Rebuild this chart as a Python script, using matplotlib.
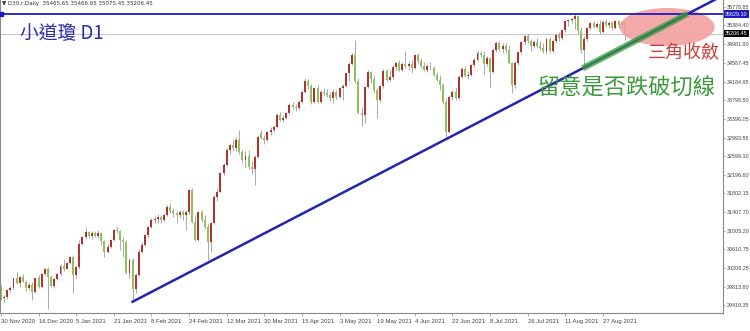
import numpy as np
import pandas as pd
import matplotlib
matplotlib.use("Agg")
import matplotlib.pyplot as plt
from matplotlib.patches import Ellipse
from matplotlib.transforms import blended_transform_factory

# D30 (Dow CFD) daily candles, 30 Nov 2020 -> 7 Sep 2021
opens = [
    29810, 29560, 29600, 29740, 29780, 29990, 29890, 30020, 29920, 29780,
    29850, 29700, 29990, 29800, 30090, 30180, 30020, 29820, 29980, 30090,
    30260, 30190, 30310, 30440, 30060, 30220, 30730, 30880, 30980, 30900,
    30950, 30900, 30960, 30780, 30560, 30660, 30800, 31020, 30990, 30800,
    30770, 30110, 30380, 29760, 30050, 30560, 30700, 30910, 31080, 31240,
    31250, 31290, 31240, 31330, 31510, 31420, 31390, 31340, 31400, 31330,
    31400, 31870, 31200, 30810, 31400, 31230, 31090, 30770, 31160, 31720,
    31830, 32230, 32410, 32720, 32830, 32760, 32940, 32690, 32510, 32600,
    32370, 32330, 32580, 33080, 32980, 32940, 33110, 33160, 33220, 33470,
    33370, 33420, 33510, 33690, 33640, 33620, 33760, 33970, 34190, 34090,
    33760, 34040, 33760, 33970, 33940, 33900, 33830, 33970, 33860, 34040,
    34100, 34360, 34570, 34760, 34190, 33520, 33470, 34070, 34400, 34250,
    34000, 33800, 34090, 34420, 34230, 34280, 34500, 34580, 34440, 34570,
    34510, 34560, 34470, 34750, 34620, 34510, 34440, 34530, 34470, 34330,
    34230, 34110, 33760, 33120, 33860, 33970, 33830, 34290, 34460, 34300,
    34330, 34540, 34650, 34790, 34760, 34560, 34690, 34400, 34860, 35010,
    34880, 34950, 34860, 34580, 34110, 34580, 34820, 35030, 35150, 35060,
    34940, 35040, 34950, 34900, 34840, 35100, 34830, 35060, 35190, 35110,
    35280, 35470, 35500, 35530, 35580, 35260, 34860, 35100, 35320, 35430,
    35360, 35420, 35250, 35460, 35400, 35440, 35320, 35470, 35400, 35465.65,
]
highs = [
    29850, 29640, 29760, 29820, 30000, 30130, 30040, 30080, 29960, 29880,
    29900, 30000, 30060, 30110, 30200, 30230, 30060, 29990, 30110, 30290,
    30400, 30330, 30460, 30480, 30260, 30800, 30900, 31080, 31000, 30990,
    31000, 31010, 30980, 30800, 30720, 30820, 31050, 31100, 31030, 30880,
    30800, 30430, 30420, 30100, 30620, 30760, 30940, 31110, 31280, 31320,
    31360, 31340, 31360, 31560, 31600, 31480, 31420, 31440, 31450, 31440,
    31900, 31920, 31350, 31420, 31450, 31340, 31150, 31200, 31760, 31920,
    32260, 32440, 32760, 32860, 32950, 33000, 33150, 32720, 32700, 32720,
    32500, 32620, 33050, 33150, 33040, 33140, 33220, 33260, 33510, 33540,
    33480, 33530, 33720, 33760, 33700, 33790, 34000, 34260, 34240, 34130,
    34060, 34110, 34000, 34040, 34020, 33960, 34020, 34000, 34080, 34130,
    34380, 34600, 34800, 35070, 34260, 33650, 34100, 34430, 34420, 34300,
    34050, 34110, 34450, 34460, 34450, 34540, 34620, 34650, 34600, 34830,
    34620, 34640, 34780, 34800, 34680, 34600, 34560, 34600, 34520, 34400,
    34320, 34150, 33840, 33900, 34000, 34050, 34320, 34500, 34520, 34420,
    34560, 34680, 34830, 34830, 34850, 34740, 34720, 34900, 35060, 35060,
    35020, 35010, 34960, 34600, 34620, 34850, 35060, 35180, 35200, 35100,
    35080, 35110, 35060, 35020, 35120, 35130, 35080, 35220, 35240, 35300,
    35500, 35530, 35560, 35629, 35600, 35350, 35150, 35350, 35450, 35480,
    35460, 35500, 35500, 35520, 35480, 35490, 35510, 35500, 35480, 35466.65,
]
lows = [
    29520, 29460, 29540, 29690, 29760, 29870, 29800, 29900, 29720, 29730,
    29520, 29680, 29780, 29790, 30060, 29330, 29800, 29780, 29960, 30060,
    30150, 30180, 30290, 29670, 30000, 30180, 30700, 30820, 30850, 30830,
    30870, 30860, 30700, 30450, 30520, 30640, 30780, 30950, 30600, 30450,
    30090, 30000, 29490, 29680, 30030, 30520, 30680, 30880, 31060, 31180,
    31160, 31160, 31190, 31320, 31380, 31300, 31160, 31280, 31230, 31020,
    31360, 31180, 30780, 30790, 31200, 31050, 30380, 30550, 31140, 31640,
    31800, 32200, 32380, 32650, 32700, 32700, 32650, 32450, 32350, 32330,
    32220, 31980, 32560, 32960, 32860, 32900, 33040, 33120, 33200, 33340,
    33320, 33380, 33490, 33600, 33560, 33580, 33740, 33950, 34020, 33700,
    33720, 33720, 33740, 33880, 33850, 33780, 33740, 33820, 33840, 33800,
    34080, 34200, 34550, 34150, 33500, 33230, 33300, 34040, 34150, 33950,
    33400, 33760, 34060, 34180, 34190, 34250, 34440, 34420, 34410, 34470,
    34430, 34380, 34450, 34590, 34480, 34420, 34400, 34430, 34300, 34200,
    34000, 33700, 33010, 33080, 33800, 33800, 33800, 34260, 34280, 34250,
    34300, 34500, 34620, 34720, 34330, 34520, 34080, 34380, 34820, 34840,
    34800, 34800, 34560, 33940, 34060, 34550, 34780, 34990, 35020, 34850,
    34900, 34900, 34860, 34800, 34780, 34790, 34800, 35010, 35050, 35080,
    35250, 35380, 35440, 35300, 35200, 34800, 34500, 35060, 35290, 35330,
    35330, 35200, 35220, 35360, 35330, 35280, 35300, 35340, 35370, 35075.45,
]
closes = [
    29560, 29600, 29740, 29780, 29990, 29890, 30020, 29920, 29780, 29850,
    29700, 29990, 29800, 30090, 30180, 30020, 29820, 29980, 30090, 30260,
    30190, 30310, 30440, 30060, 30220, 30730, 30880, 30980, 30900, 30950,
    30900, 30960, 30780, 30560, 30660, 30800, 31020, 30990, 30800, 30770,
    30110, 30380, 29760, 30050, 30560, 30700, 30910, 31080, 31240, 31250,
    31290, 31240, 31330, 31510, 31420, 31390, 31340, 31400, 31330, 31400,
    31870, 31200, 30810, 31400, 31230, 31090, 30770, 31160, 31720, 31830,
    32230, 32410, 32720, 32830, 32760, 32940, 32690, 32510, 32600, 32370,
    32330, 32580, 33010, 32980, 32940, 33110, 33160, 33220, 33470, 33370,
    33420, 33510, 33690, 33640, 33620, 33760, 33970, 34190, 34090, 33760,
    34040, 33760, 33970, 33940, 33900, 33830, 33970, 33860, 34040, 34100,
    34360, 34570, 34760, 34190, 33520, 33470, 34070, 34400, 34250, 34000,
    33800, 34090, 34420, 34230, 34280, 34500, 34580, 34440, 34570, 34510,
    34560, 34470, 34750, 34620, 34510, 34440, 34530, 34470, 34330, 34230,
    34110, 33760, 33120, 33860, 33970, 33830, 34290, 34460, 34300, 34330,
    34540, 34650, 34790, 34760, 34560, 34690, 34400, 34860, 35010, 34880,
    34950, 34860, 34580, 34110, 34580, 34820, 35030, 35150, 35060, 34940,
    35040, 34950, 34900, 34840, 35100, 34830, 35060, 35190, 35110, 35280,
    35470, 35500, 35530, 35580, 35260, 34860, 35100, 35320, 35430, 35360,
    35420, 35250, 35460, 35400, 35440, 35320, 35470, 35400, 35460, 35206.45,
]

y_ticks = [35778.85, 35384.40, 34981.90, 34587.45, 34184.95, 33798.50,
           33396.05, 32993.55, 32599.10, 32196.60, 31802.15, 31407.70,
           31005.20, 30610.75, 30208.25, 29813.80, 29419.35]
resistance = 35629.10
last_price = 35206.45
trend_idx = [42, 142]          # 29 Jan low -> 18 Jun low
trend_price = [29490, 32960]
band_idx = [185.5, 219]        # green highlight along the trend line
header = "\u25bc D30.r,Daily  35465.65 35466.65 35075.45 35206.45"

# trading days (CFD trades US holidays except Christmas / New Year)
dates = pd.bdate_range("2020-11-30", "2021-09-07")
dates = dates[~dates.isin(pd.to_datetime(["2020-12-25", "2021-01-01"]))]

o = np.array(opens)
h = np.array(highs)
l = np.array(lows)
c = np.array(closes)
x = np.arange(len(c))

plt.rcParams["font.family"] = ["Liberation Sans", "DejaVu Sans"]
cjk = ["Noto Sans CJK TC", "DejaVu Sans"]

fig = plt.figure(figsize=(7.5, 3.31), dpi=100)
ax = fig.add_axes([0.0, 18 / 331, 723 / 750, 313 / 331])

# candles: red = up, green = down
up = c >= o
ax.vlines(x, l, h, color="#9b9b9b", lw=0.6, zorder=1)
ax.bar(x, np.maximum(np.abs(c - o), 8), bottom=np.minimum(o, c), width=0.62,
       color=np.where(up, "#b3322d", "#8fc35a"), zorder=2)

# horizontal lines
ax.axhline(resistance, color="#1c1cc0", lw=1.3, zorder=4)
ax.axhline(last_price, color="#c8c8c8", lw=0.8, zorder=0)

# trend line from 29 Jan low
slope = (trend_price[1] - trend_price[0]) / (trend_idx[1] - trend_idx[0])
tx = np.array([trend_idx[0], 240])
ax.plot(tx, trend_price[0] + slope * (tx - trend_idx[0]), color="#2424b4", lw=1.8, zorder=4)

# triangle highlight
ax.add_patch(Ellipse((212.5, 35352), width=30.3, height=811, facecolor="#f3a0a0",
                     edgecolor="none", alpha=0.9, zorder=3))
bx = np.array(band_idx)
ax.plot(bx, trend_price[0] + slope * (bx - trend_idx[0]), color="#3a9a3a", lw=4.5,
        alpha=0.75, solid_capstyle="butt", zorder=5)

# axes
ax.set_xlim(-0.3, 230.3)
ax.set_ylim(29249, 35928)
ax.yaxis.tick_right()
ax.set_yticks(y_ticks)
ax.set_yticklabels([f"{v:.2f}" for v in y_ticks])
ax.tick_params(axis="y", length=1.5, width=0.5, color="#888888", labelsize=3.9,
               pad=1, labelcolor="#444444")
lab_idx = list(range(0, len(c), 12))
ax.set_xticks(lab_idx)
ax.set_xticklabels([f"{dates[i].day} {dates[i]:%b %Y}" for i in lab_idx])
ax.tick_params(axis="x", length=2.5, width=0.5, color="#888888", labelsize=4.3,
               pad=1.5, labelcolor="#444444")
for t in ax.get_xticklabels():
    t.set_ha("left")
for side in ["left", "bottom", "right"]:
    ax.spines[side].set_color("#888888")
    ax.spines[side].set_linewidth(0.8)
ax.spines["top"].set_visible(False)

# price boxes on the axis
trans = blended_transform_factory(ax.transAxes, ax.transData)
ax.text(1.003, resistance, f"{resistance:.2f}", transform=trans, fontsize=3.9,
        color="white", va="center", ha="left", clip_on=False,
        bbox=dict(boxstyle="square,pad=0.2", fc="#1c1cc0", ec="none"))
ax.text(1.003, last_price, f"{last_price:.2f}", transform=trans, fontsize=3.9,
        color="white", va="center", ha="left", clip_on=False,
        bbox=dict(boxstyle="square,pad=0.2", fc="black", ec="none"))
ax.plot([0.002], [resistance], marker="s", ms=2.5, color="#1c1cc0", transform=trans,
        clip_on=False, zorder=5)

# texts
ax.text(0.003, 0.997, header, transform=ax.transAxes, fontsize=4, va="top",
        ha="left", color="#333333", family=["DejaVu Sans"])
ax.text(0.028, 0.891, "小道瓊 D1", transform=ax.transAxes, fontsize=13.5,
        color="#2b2bb5", va="center", ha="left", family=cjk)
ax.text(0.896, 0.831, "三角收斂", transform=ax.transAxes, fontsize=13,
        color="#d03c3c", va="center", ha="left", family=cjk)
ax.text(0.743, 0.719, "留意是否跌破切線", transform=ax.transAxes, fontsize=16,
        color="#3c9a3c", va="center", ha="left", family=cjk, zorder=6)

fig.savefig("out.png", dpi=100)
